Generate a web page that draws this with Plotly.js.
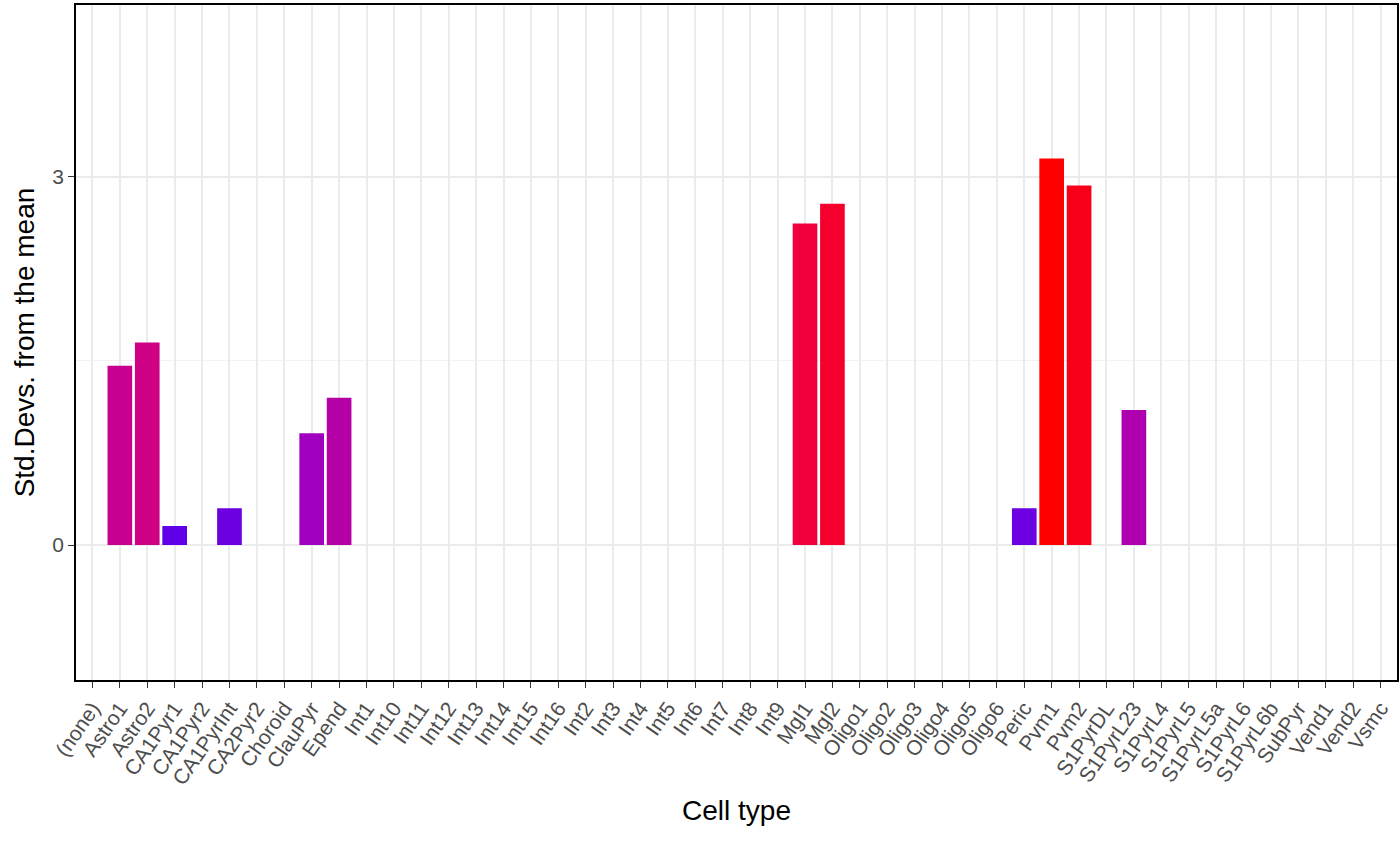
<!DOCTYPE html>
<html>
<head>
<script src="https://cdn.plot.ly/plotly-3.0.1.min.js"></script>
<style>body{margin:0}</style>
</head>
<body>
<div id="plot" style="width:1400px;height:865px"></div>
<script>
const cellTypes = ['(none)','Astro1','Astro2','CA1Pyr1','CA1Pyr2','CA1PyrInt','CA2Pyr2','Choroid','ClauPyr','Epend',
  'Int1','Int10','Int11','Int12','Int13','Int14','Int15','Int16','Int2','Int3','Int4','Int5','Int6','Int7','Int8','Int9',
  'Mgl1','Mgl2','Oligo1','Oligo2','Oligo3','Oligo4','Oligo5','Oligo6','Peric','Pvm1','Pvm2','S1PyrDL','S1PyrL23',
  'S1PyrL4','S1PyrL5','S1PyrL5a','S1PyrL6','S1PyrL6b','SubPyr','Vend1','Vend2','Vsmc'];
const barTypes = ['Astro1','Astro2','CA1Pyr1','CA1PyrInt','ClauPyr','Epend','Mgl1','Mgl2','Peric','Pvm1','Pvm2','S1PyrL23'];
const sdValues = [1.46, 1.65, 0.155, 0.30, 0.91, 1.20, 2.62, 2.78, 0.30, 3.15, 2.93, 1.10];

const bars = {
  type: 'bar',
  x: barTypes,
  y: sdValues,
  width: 0.9,
  marker: {
    color: sdValues,
    cmin: 0.155, cmax: 3.15,
    colorscale: [[0,'#6000E8'],[0.25,'#A000C0'],[0.44,'#C8008F'],[0.82,'#F00040'],[1,'#FF0000']],
    showscale: false
  },
  hoverinfo: 'none'
};

const layout = {
  width: 1400, height: 865,
  margin: {l: 76, r: 3, t: 5, b: 185},
  paper_bgcolor: 'white', plot_bgcolor: 'white',
  font: {family: 'Liberation Sans, Arial, sans-serif', color: '#000'},
  showlegend: false,
  xaxis: {
    type: 'category',
    categoryorder: 'array', categoryarray: cellTypes,
    range: [-0.6, 47.6],
    tickangle: -55,
    tickfont: {size: 21, color: '#4D4D4D'},
    ticks: 'outside', ticklen: 6, tickcolor: '#333',
    showgrid: true, gridcolor: '#EBEBEB', gridwidth: 1.5,
    showline: true, linecolor: '#000', linewidth: 1.5, mirror: true,
    title: {text: 'Cell type', font: {size: 28}, standoff: 12}
  },
  yaxis: {
    range: [-1.10, 4.40],
    tickvals: [0, 3], ticktext: ['0', '3'],
    tickfont: {size: 21, color: '#4D4D4D'},
    ticks: 'outside', ticklen: 6, tickcolor: '#333',
    showgrid: true, gridcolor: '#EBEBEB', gridwidth: 1.5,
    minor: {tickvals: [1.5], showgrid: true, gridcolor: '#F2F2F2', gridwidth: 1},
    zeroline: false,
    showline: true, linecolor: '#000', linewidth: 1.5, mirror: true,
    title: {text: 'Std.Devs. from the mean', font: {size: 28}, standoff: 10}
  }
};

Plotly.newPlot('plot', [bars], layout, {displayModeBar: false});
</script>
</body>
</html>
